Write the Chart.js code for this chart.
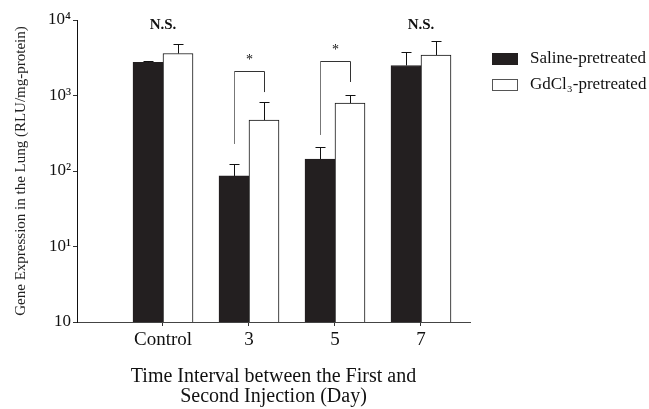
<!DOCTYPE html>
<html><head><meta charset="utf-8">
<script src="https://cdn.jsdelivr.net/npm/chart.js@4.4.1/dist/chart.umd.min.js"></script>
<style>html,body{margin:0;padding:0;background:#fff}#wrap{width:649px;height:409px;position:relative}</style>
</head><body><div id="wrap"><canvas id="c"></canvas></div>
<script>
// ---- data ----
const categories = ['Control', '3', '5', '7'];
const categoryPos = [1, 2, 3, 4];
const seriesLabels = ['Saline-pretreated', 'GdCl\u2083-pretreated'];
const salineValues = [2750, 86, 144, 2500];
const salineErrTop = [2850, 123, 208, 3780];
const gdValues = [3600, 473, 794, 3440];
const gdErrTop = [4800, 818, 1020, 5290];
const yTickValues = [1, 10, 100, 1000, 10000];
const yTickLabels = ['10', '10\u00B9', '10\u00B2', '10\u00B3', '10\u2074'];
const nsLabels = ['N.S.', '', '', 'N.S.'];
const nsLevel = 8500;
// significance brackets (category index, left leg start, right leg end, top)
const bracketCats = [1, 2];
const bracketLeft = [228, 300];
const bracketRight = [1110, 1510];
const bracketTop = [2100, 2870];
const bracketMark = ['*', '*'];

const SERIF = '"Liberation Serif", "DejaVu Serif", serif';
const errTops = [salineErrTop, gdErrTop];

const overlay = {
  id: 'overlay',
  afterDatasetsDraw(chart) {
    const ctx = chart.ctx;
    const ys = chart.scales.y;
    ctx.save();
    // error bars
    ctx.strokeStyle = '#111';
    ctx.lineWidth = 1;
    chart.data.datasets.forEach((ds, di) => {
      const meta = chart.getDatasetMeta(di);
      meta.data.forEach((bar, i) => {
        const x = Math.round(bar.x) + 0.5;
        const yt = Math.round(ys.getPixelForValue(errTops[di][i])) + 0.5;
        ctx.beginPath();
        ctx.moveTo(x, bar.y);
        ctx.lineTo(x, yt);
        ctx.moveTo(x - 5, yt);
        ctx.lineTo(x + 5, yt);
        ctx.stroke();
      });
    });
    // brackets
    const m0 = chart.getDatasetMeta(0), m1 = chart.getDatasetMeta(1);
    bracketCats.forEach((c, k) => {
      const xl = Math.round(m0.data[c].x) + 0.5;
      const xr = Math.round(m1.data[c].x) + 0.5;
      const yl = ys.getPixelForValue(bracketLeft[k]);
      const yr = ys.getPixelForValue(bracketRight[k]);
      const yt = Math.round(ys.getPixelForValue(bracketTop[k])) + 0.5;
      ctx.strokeStyle = '#777';
      ctx.beginPath();
      ctx.moveTo(xl, yl);
      ctx.lineTo(xl, yt);
      ctx.stroke();
      ctx.strokeStyle = '#333';
      ctx.beginPath();
      ctx.moveTo(xl, yt);
      ctx.lineTo(xr, yt);
      ctx.lineTo(xr, yr);
      ctx.stroke();
      ctx.fillStyle = '#111';
      ctx.font = '14px ' + SERIF;
      ctx.textAlign = 'center';
      ctx.textBaseline = 'middle';
      ctx.fillText(bracketMark[k], (xl + xr) / 2, yt - 11);
    });
    // N.S. labels
    ctx.font = 'bold 15px ' + SERIF;
    ctx.fillStyle = '#111';
    ctx.textAlign = 'center';
    ctx.textBaseline = 'middle';
    nsLabels.forEach((t, i) => {
      if (!t) return;
      const x = (m0.data[i].x + m1.data[i].x) / 2;
      ctx.fillText(t, x, ys.getPixelForValue(nsLevel));
    });
    // legend
    const lx = chart.chartArea.right + 22;
    const ly = [53, 79];
    ctx.font = '17px ' + SERIF;
    ctx.textAlign = 'left';
    chart.data.datasets.forEach((ds, di) => {
      ctx.fillStyle = ds.backgroundColor;
      ctx.fillRect(lx, ly[di], 26, 12);
      ctx.strokeStyle = di === 0 ? ds.backgroundColor : '#555';
      ctx.strokeRect(lx + 0.5, ly[di] + 0.5, 25, 11);
      ctx.fillStyle = '#111';
      ctx.fillText(ds.label, lx + 38, ly[di] + 6);
    });
    ctx.restore();
  }
};

new Chart(document.getElementById('c'), {
  type: 'bar',
  data: {
    datasets: [
      {
        label: seriesLabels[0],
        data: categoryPos.map((x, i) => ({ x, y: salineValues[i] })),
        backgroundColor: '#231f20',
        borderColor: '#231f20',
        borderWidth: 1
      },
      {
        label: seriesLabels[1],
        data: categoryPos.map((x, i) => ({ x, y: gdValues[i] })),
        backgroundColor: '#ffffff',
        borderColor: '#111',
        borderWidth: 1
      }
    ]
  },
  options: {
    responsive: true,
    maintainAspectRatio: false,
    animation: false,
    barThickness: 30,
    layout: { padding: { left: 0, right: 179, top: 20, bottom: 0 } },
    plugins: { legend: { display: false }, tooltip: { enabled: false } },
    scales: {
      x: {
        type: 'linear',
        position: 'bottom',
        offset: false,
        min: 0,
        max: 4.57,
        afterBuildTicks: (s) => { s.ticks = categoryPos.map(v => ({ value: v })); },
        afterFit: (s) => { s.height = 87; },
        grid: { drawOnChartArea: false, drawTicks: true, tickLength: 4, color: '#333', offset: false },
        border: { display: true, color: '#444', width: 1 },
        ticks: {
          color: '#111',
          padding: 3,
          font: { family: SERIF, size: 19 },
          callback: (v) => categories[categoryPos.indexOf(v)]
        },
        title: {
          display: true,
          text: ['Time Interval between the First and', 'Second Injection (Day)'],
          color: '#111',
          font: { family: SERIF, size: 20, lineHeight: 1.0 },
          padding: { top: 0, bottom: 2 }
        }
      },
      y: {
        type: 'logarithmic',
        min: 1,
        max: 10000,
        afterBuildTicks: (s) => { s.ticks = yTickValues.map(v => ({ value: v })); },
        afterFit: (s) => { s.width = 77; },
        grid: { drawOnChartArea: false, drawTicks: true, tickLength: 4, color: '#333' },
        border: { display: true, color: '#111', width: 1 },
        ticks: {
          color: '#111',
          padding: 2,
          font: { family: SERIF, size: 17 },
          callback: (v) => yTickLabels[yTickValues.indexOf(v)]
        },
        title: {
          display: true,
          text: 'Gene Expression in the Lung (RLU/mg-protein)',
          color: '#222',
          font: { family: SERIF, size: 15 },
          padding: { top: 12, bottom: 0 }
        }
      }
    }
  },
  plugins: [overlay]
});
</script>
</body></html>
